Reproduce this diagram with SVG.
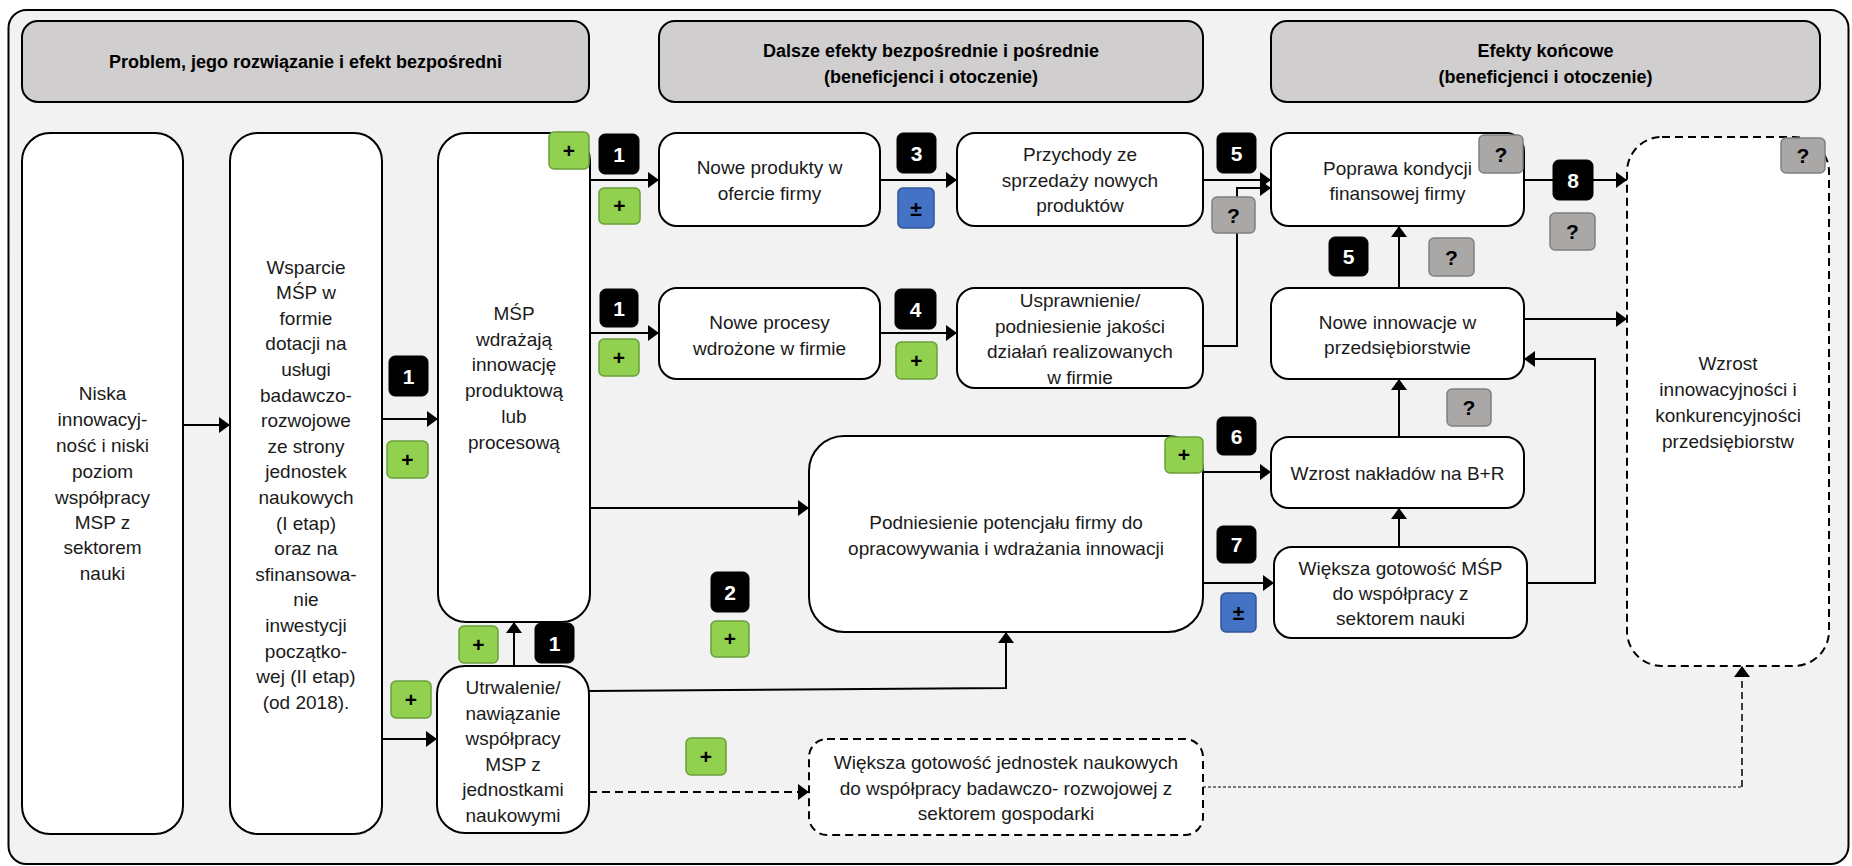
<svg xmlns="http://www.w3.org/2000/svg" width="1852" height="866" viewBox="0 0 1852 866">
<defs>
<marker id="ah" viewBox="0 0 11 16" refX="11" refY="8" markerWidth="11" markerHeight="16" markerUnits="userSpaceOnUse" orient="auto">
<path d="M0,0 L11,8 L0,16 z" fill="#000"/>
</marker>
<style>
.frame{fill:#f2f2f2;stroke:#000;stroke-width:2}
.hdr{fill:#d0cece;stroke:#000;stroke-width:2}
.ht{font-family:"Liberation Sans",Arial,sans-serif;font-size:18px;font-weight:bold;fill:#000;text-anchor:middle}
.nd{fill:#fff;stroke:#000;stroke-width:2}
.dnd{fill:#fff;stroke:#000;stroke-width:2;stroke-dasharray:8,5}
.t{font-family:"Liberation Sans",Arial,sans-serif;font-size:19px;fill:#1a1a1a;text-anchor:middle}
.c{fill:none;stroke:#000;stroke-width:2;marker-end:url(#ah)}
.cd{fill:none;stroke:#000;stroke-width:2;stroke-dasharray:8,5;marker-end:url(#ah)}
.bk{fill:#000;stroke:#000;stroke-width:1}
.gr{fill:#92d050;stroke:#6a9f3a;stroke-width:1.5}
.bl{fill:#4472c4;stroke:#2f5597;stroke-width:1.5}
.gy{fill:#aaa7a7;stroke:#808080;stroke-width:1.5}
.bt{font-family:"Liberation Sans",Arial,sans-serif;font-size:21px;font-weight:bold;text-anchor:middle}
.w{fill:#fff}
.k{fill:#000}
</style>
</defs>

<rect class="frame" x="8.5" y="10" width="1840" height="854" rx="18"/>

<g id="header1"><rect class="hdr" x="22" y="21" width="567" height="81" rx="16"/>
<text class="ht" x="305.5" y="68">Problem, jego rozwiązanie i efekt bezpośredni</text></g>
<g id="header2"><rect class="hdr" x="659" y="21" width="544" height="81" rx="16"/>
<text class="ht"><tspan x="931" y="56.5">Dalsze efekty bezpośrednie i pośrednie</tspan><tspan x="931" y="82.5">(beneficjenci i otoczenie)</tspan></text></g>
<g id="header3"><rect class="hdr" x="1271" y="21" width="549" height="81" rx="16"/>
<text class="ht"><tspan x="1545.5" y="56.5">Efekty końcowe</tspan><tspan x="1545.5" y="82.5">(beneficjenci i otoczenie)</tspan></text></g>

<g id="connectors">
<path class="c" d="M183,425 H230"/>
<path class="c" d="M382,419 H438"/>
<path class="c" d="M382,739 H437"/>
<path class="c" d="M514,666 V622"/>
<path class="c" d="M590,180 H659"/>
<path class="c" d="M880,180 H957"/>
<path class="c" d="M1203,180 H1271"/>
<path class="c" d="M590,333 H659"/>
<path class="c" d="M880,333 H957"/>
<path class="c" d="M1203,346 H1237 V188 H1271"/>
<path class="c" d="M590,508 H809"/>
<path class="c" d="M589,691 L1006,688 V632"/>
<path class="cd" d="M589,792 H809"/>
<path fill="none" stroke="#000" stroke-width="1.2" stroke-dasharray="3,2" d="M1203,787 H1742"/>
<path fill="none" stroke="#000" stroke-width="1.5" stroke-dasharray="7,4" marker-end="url(#ah)" d="M1742,787 V666"/>
<path class="c" d="M1524,180 H1627"/>
<path class="c" d="M1399,288 V226"/>
<path class="c" d="M1524,319 H1627"/>
<path class="c" d="M1399,437 V379"/>
<path class="c" d="M1203,472 H1271"/>
<path class="c" d="M1203,583 H1274"/>
<path class="c" d="M1399,547 V508"/>
<path class="c" d="M1527,583 H1595 V359 H1524"/>
</g>

<g id="nodeA"><rect class="nd" x="22" y="133" width="161" height="701" rx="28"/>
<text class="t"><tspan x="102.5" y="399.5">Niska</tspan><tspan x="102.5" y="425.5">innowacyj-</tspan><tspan x="102.5" y="451.5">ność i niski</tspan><tspan x="102.5" y="477.5">poziom</tspan><tspan x="102.5" y="503.5">współpracy</tspan><tspan x="102.5" y="528.5">MSP z</tspan><tspan x="102.5" y="553.5">sektorem</tspan><tspan x="102.5" y="579.5">nauki</tspan></text></g>

<g id="nodeB"><rect class="nd" x="230" y="133" width="152" height="701" rx="28"/>
<text class="t"><tspan x="306" y="273.5">Wsparcie</tspan><tspan x="306" y="299.1">MŚP w</tspan><tspan x="306" y="324.7">formie</tspan><tspan x="306" y="350.3">dotacji na</tspan><tspan x="306" y="375.9">usługi</tspan><tspan x="306" y="401.5">badawczo-</tspan><tspan x="306" y="427.1">rozwojowe</tspan><tspan x="306" y="452.7">ze strony</tspan><tspan x="306" y="478.3">jednostek</tspan><tspan x="306" y="503.9">naukowych</tspan><tspan x="306" y="529.5">(I etap)</tspan><tspan x="306" y="555.1">oraz na</tspan><tspan x="306" y="580.7">sfinansowa-</tspan><tspan x="306" y="606.3">nie</tspan><tspan x="306" y="631.9">inwestycji</tspan><tspan x="306" y="657.5">początko-</tspan><tspan x="306" y="683.1">wej (II etap)</tspan><tspan x="306" y="708.7">(od 2018).</tspan></text></g>

<g id="nodeC"><rect class="nd" x="438" y="133" width="152" height="489" rx="28"/>
<text class="t"><tspan x="514" y="319.5">MŚP</tspan><tspan x="514" y="345.5">wdrażają</tspan><tspan x="514" y="371">innowację</tspan><tspan x="514" y="396.5">produktową</tspan><tspan x="514" y="422.5">lub</tspan><tspan x="514" y="448.5">procesową</tspan></text></g>

<g id="nodeD"><rect class="nd" x="437" y="666" width="152" height="167" rx="28"/>
<text class="t"><tspan x="513" y="693.5">Utrwalenie/</tspan><tspan x="513" y="719.5">nawiązanie</tspan><tspan x="513" y="744.5">współpracy</tspan><tspan x="513" y="770.5">MSP z</tspan><tspan x="513" y="795.5">jednostkami</tspan><tspan x="513" y="821.5">naukowymi</tspan></text></g>

<g id="nodeE"><rect class="nd" x="659" y="133" width="221" height="93" rx="18"/>
<text class="t"><tspan x="769.5" y="173.5">Nowe produkty w</tspan><tspan x="769.5" y="199.5">ofercie firmy</tspan></text></g>

<g id="nodeF"><rect class="nd" x="957" y="133" width="246" height="93" rx="18"/>
<text class="t"><tspan x="1080" y="160.5">Przychody ze</tspan><tspan x="1080" y="186.5">sprzedaży nowych</tspan><tspan x="1080" y="211.5">produktów</tspan></text></g>

<g id="nodeN"><rect class="nd" x="659" y="288" width="221" height="91" rx="18"/>
<text class="t"><tspan x="769.5" y="328.5">Nowe procesy</tspan><tspan x="769.5" y="354.5">wdrożone w firmie</tspan></text></g>

<g id="nodeO"><rect class="nd" x="957" y="288" width="246" height="100" rx="18"/>
<text class="t"><tspan x="1080" y="306.5">Usprawnienie/</tspan><tspan x="1080" y="332.5">podniesienie jakości</tspan><tspan x="1080" y="357.5">działań realizowanych</tspan><tspan x="1080" y="383.5">w firmie</tspan></text></g>

<g id="nodeJ"><rect class="nd" x="809" y="436" width="394" height="196" rx="35"/>
<text class="t"><tspan x="1006" y="528.5">Podniesienie potencjału firmy do</tspan><tspan x="1006" y="554.5">opracowywania i wdrażania innowacji</tspan></text></g>

<g id="nodeM"><rect class="dnd" x="809" y="739" width="394" height="96" rx="18"/>
<text class="t"><tspan x="1006" y="768.5">Większa gotowość jednostek naukowych</tspan><tspan x="1006" y="794.5">do współpracy badawczo- rozwojowej z</tspan><tspan x="1006" y="819.5">sektorem gospodarki</tspan></text></g>

<g id="nodeG"><rect class="nd" x="1271" y="133" width="253" height="93" rx="18"/>
<text class="t"><tspan x="1397.5" y="174.5">Poprawa kondycji</tspan><tspan x="1397.5" y="199.5">finansowej firmy</tspan></text></g>

<g id="nodeH"><rect class="nd" x="1271" y="288" width="253" height="91" rx="18"/>
<text class="t"><tspan x="1397.5" y="328.5">Nowe innowacje w</tspan><tspan x="1397.5" y="353.5">przedsiębiorstwie</tspan></text></g>

<g id="nodeI"><rect class="nd" x="1271" y="437" width="253" height="71" rx="18"/>
<text class="t" x="1397.5" y="479.5">Wzrost nakładów na B+R</text></g>

<g id="nodeL"><rect class="nd" x="1274" y="547" width="253" height="91" rx="18"/>
<text class="t"><tspan x="1400.5" y="574.5">Większa gotowość MŚP</tspan><tspan x="1400.5" y="599.5">do współpracy z</tspan><tspan x="1400.5" y="624.5">sektorem nauki</tspan></text></g>

<g id="nodeK"><rect class="dnd" x="1627" y="137" width="202" height="529" rx="35"/>
<text class="t"><tspan x="1728" y="369.5">Wzrost</tspan><tspan x="1728" y="395.5">innowacyjności i</tspan><tspan x="1728" y="421.5">konkurencyjności</tspan><tspan x="1728" y="447.5">przedsiębiorstw</tspan></text></g>

<g id="badges">
<rect class="gr" x="549" y="132" width="40" height="37" rx="5"/><text class="bt k" x="569" y="158">+</text>
<rect class="gr" x="599" y="188" width="41" height="36" rx="5"/><text class="bt k" x="619.5" y="213">+</text>
<rect class="gr" x="599" y="339" width="40" height="37" rx="5"/><text class="bt k" x="619" y="365">+</text>
<rect class="gr" x="896" y="342" width="41" height="37" rx="5"/><text class="bt k" x="916.5" y="368">+</text>
<rect class="gr" x="387" y="441" width="41" height="37" rx="5"/><text class="bt k" x="407.5" y="467">+</text>
<rect class="gr" x="391" y="681" width="40" height="37" rx="5"/><text class="bt k" x="411" y="707">+</text>
<rect class="gr" x="459" y="626" width="39" height="37" rx="5"/><text class="bt k" x="478.5" y="652">+</text>
<rect class="gr" x="711" y="621" width="38" height="36" rx="5"/><text class="bt k" x="730" y="646">+</text>
<rect class="gr" x="686" y="738" width="40" height="37" rx="5"/><text class="bt k" x="706" y="764">+</text>
<rect class="gr" x="1165" y="437" width="38" height="36" rx="5"/><text class="bt k" x="1184" y="462">+</text>

<rect class="bk" x="599" y="134" width="40" height="40" rx="6"/><text class="bt w" x="619" y="161.5">1</text>
<rect class="bk" x="600" y="289" width="38" height="38" rx="6"/><text class="bt w" x="619" y="315.5">1</text>
<rect class="bk" x="389" y="356" width="39" height="40" rx="6"/><text class="bt w" x="408.5" y="383.5">1</text>
<rect class="bk" x="535" y="623" width="39" height="40" rx="6"/><text class="bt w" x="554.5" y="650.5">1</text>
<rect class="bk" x="711" y="572" width="38" height="40" rx="6"/><text class="bt w" x="730" y="599.5">2</text>
<rect class="bk" x="897" y="133" width="39" height="40" rx="6"/><text class="bt w" x="916.5" y="160.5">3</text>
<rect class="bk" x="895" y="289" width="41" height="40" rx="6"/><text class="bt w" x="915.5" y="316.5">4</text>
<rect class="bk" x="1217" y="133" width="39" height="40" rx="6"/><text class="bt w" x="1236.5" y="160.5">5</text>
<rect class="bk" x="1329" y="237" width="39" height="39" rx="6"/><text class="bt w" x="1348.5" y="264">5</text>
<rect class="bk" x="1217" y="417" width="39" height="38" rx="6"/><text class="bt w" x="1236.5" y="443.5">6</text>
<rect class="bk" x="1217" y="526" width="39" height="37" rx="6"/><text class="bt w" x="1236.5" y="552">7</text>
<rect class="bk" x="1553" y="160" width="40" height="40" rx="6"/><text class="bt w" x="1573" y="187.5">8</text>

<rect class="bl" x="898" y="188" width="36" height="40" rx="5"/><text class="bt k" x="916" y="215.5">±</text>
<rect class="bl" x="1221" y="593" width="35" height="39" rx="5"/><text class="bt k" x="1238.5" y="620">±</text>

<rect class="gy" x="1212" y="197" width="43" height="36" rx="5"/><text class="bt k" x="1233.5" y="222.5">?</text>
<rect class="gy" x="1479" y="135" width="44" height="38" rx="5"/><text class="bt k" x="1501" y="161.5">?</text>
<rect class="gy" x="1550" y="213" width="45" height="37" rx="5"/><text class="bt k" x="1572.5" y="239">?</text>
<rect class="gy" x="1429" y="238" width="45" height="38" rx="5"/><text class="bt k" x="1451.5" y="264.5">?</text>
<rect class="gy" x="1447" y="389" width="44" height="37" rx="5"/><text class="bt k" x="1469" y="415">?</text>
<rect class="gy" x="1781" y="138" width="44" height="35" rx="5"/><text class="bt k" x="1803" y="163">?</text>
</g>
</svg>
